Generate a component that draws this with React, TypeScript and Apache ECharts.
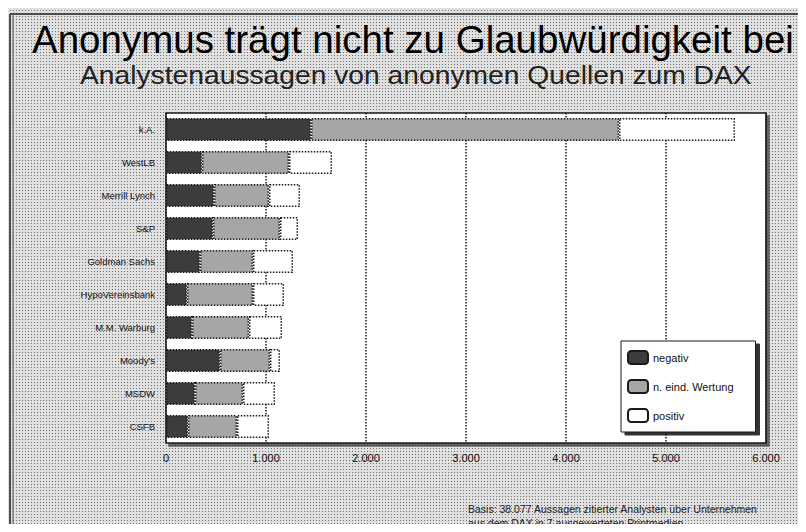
import React, { useEffect, useRef } from "react";
import * as echarts from "echarts";

const categories = [
  "k.A.",
  "WestLB",
  "Merrill Lynch",
  "S&P",
  "Goldman Sachs",
  "HypoVereinsbank",
  "M.M. Warburg",
  "Moody's",
  "MSDW",
  "CSFB",
];
const negativ = [1450, 360, 480, 470, 340, 210, 260, 540, 290, 220];
const neutral = [3080, 870, 550, 670, 530, 660, 570, 500, 480, 490];
const positiv = [1160, 430, 310, 180, 400, 310, 330, 100, 320, 320];
const seriesNames = ["negativ", "n. eind. Wertung", "positiv"];
const tickLabels = ["0", "1.000", "2.000", "3.000", "4.000", "5.000", "6.000"];

const titleText = "Anonymus trägt nicht zu Glaubwürdigkeit bei";
const subtitleText = "Analystenaussagen von anonymen Quellen zum DAX";
const noteLines = [
  "Basis: 38.077 Aussagen zitierter Analysten über Unternehmen",
  "aus dem DAX in 7 ausgewerteten Printmedien",
];

const FONT = "'Liberation Sans', Arial, sans-serif";

export default function App() {
  const ref = useRef<HTMLDivElement>(null);
  useEffect(() => {
    if (!ref.current) return;
    const chart = echarts.init(ref.current, undefined, { renderer: "svg" });
    const barBorder = {
      borderColor: "#1a1a1a",
      borderWidth: 1.5,
      borderType: "dotted" as const,
    };
    const colors = ["#3c3c3c", "#a6a6a6", "#ffffff"];
    const datas = [negativ, neutral, positiv];
    chart.setOption({
      animation: false,
      backgroundColor: "transparent",
      textStyle: { fontFamily: FONT },
      title: [
        {
          text: titleText,
          left: 27,
          top: 15,
          textStyle: {
            fontFamily: FONT,
            fontSize: 38.5,
            fontWeight: "normal",
            color: "#000",
          },
        },
      ],
      legend: {
        orient: "vertical",
        left: 621,
        top: 341,
        itemWidth: 20,
        itemHeight: 13,
        itemGap: 14,
        backgroundColor: "#ffffff",
        borderColor: "#1a1a1a",
        borderWidth: 1,
        padding: [9, 22, 9, 6],
        shadowColor: "rgba(0,0,0,0.8)",
        shadowOffsetX: 4,
        shadowOffsetY: 3,
        shadowBlur: 0,
        textStyle: { fontFamily: FONT, fontSize: 11, color: "#111" },
        data: seriesNames,
      },
      grid: {
        left: 166,
        right: 40,
        top: 113,
        bottom: 89,
        show: true,
        backgroundColor: "#ffffff",
        borderColor: "#1a1a1a",
        borderWidth: 1.5,
        shadowColor: "rgba(0,0,0,0.55)",
        shadowOffsetX: 3,
        shadowOffsetY: 3,
        shadowBlur: 0,
      },
      xAxis: {
        type: "value",
        min: 0,
        max: 6000,
        interval: 1000,
        axisLine: { show: false },
        axisTick: { show: false },
        axisLabel: {
          fontFamily: FONT,
          fontSize: 11,
          color: "#111",
          margin: 9,
          formatter: (v: number) => tickLabels[Math.round(v / 1000)] ?? "",
        },
        splitLine: {
          show: true,
          lineStyle: { color: "#1a1a1a", type: "dotted", width: 1.5 },
        },
      },
      yAxis: {
        type: "category",
        data: categories,
        inverse: true,
        axisLine: { show: false },
        axisTick: { show: false },
        axisLabel: {
          fontFamily: FONT,
          fontSize: 9.5,
          color: "#111",
          margin: 11,
        },
      },
      series: seriesNames.map((name, i) => ({
        name,
        type: "bar",
        stack: "total",
        barCategoryGap: "30%",
        data: datas[i],
        itemStyle: { color: colors[i], ...barBorder },
      })),
      graphic: [
        {
          type: "text",
          x: 80,
          y: 63,
          scaleX: 1.13,
          style: {
            text: subtitleText,
            fontFamily: FONT,
            fontSize: 25,
            fill: "#222",
          },
        },
        {
          type: "line",
          shape: { x1: 10, y1: 14, x2: 806, y2: 14 },
          style: { stroke: "#222", lineWidth: 1.5 },
        },
        {
          type: "line",
          shape: { x1: 10, y1: 14, x2: 10, y2: 532 },
          style: { stroke: "#222", lineWidth: 1.5 },
        },
        {
          type: "line",
          shape: { x1: 13, y1: 14, x2: 13, y2: 532 },
          style: { stroke: "#555", lineWidth: 1 },
        },
        {
          type: "text",
          left: 468,
          top: 502,
          style: {
            text: noteLines.join("\n"),
            fontFamily: FONT,
            fontSize: 10.5,
            lineHeight: 14,
            fill: "#222",
          },
        },
      ],
    });
    return () => chart.dispose();
  }, []);
  return (
    <div
      ref={ref}
      style={{
        width: 806,
        height: 532,
        margin: -8,
        backgroundColor: "#e0e0e0",
        backgroundImage:
          "radial-gradient(circle, #707070 0.6px, transparent 0.9px)",
        backgroundSize: "3px 3px",
      }}
    />
  );
}
